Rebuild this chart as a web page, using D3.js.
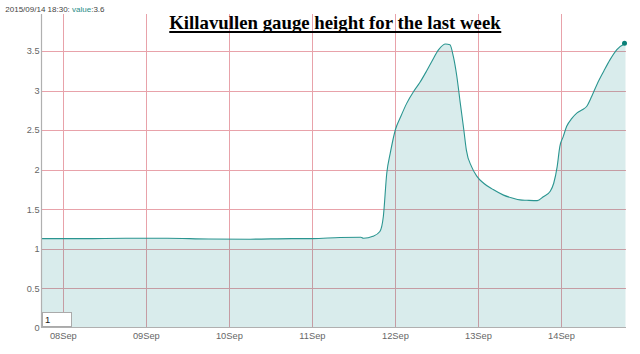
<!DOCTYPE html>
<html>
<head>
<meta charset="utf-8">
<script src="https://cdn.jsdelivr.net/npm/d3@7/dist/d3.min.js"></script>
<style>
html,body{margin:0;padding:0;background:#fff;}
svg{display:block;}
</style>
</head>
<body>
<svg id="chart" width="640" height="354"></svg>
<script>
// ---- data ----
const times = [
"2015-09-07T17:50","2015-09-08T06:00","2015-09-08T18:00","2015-09-09T06:00","2015-09-09T18:00",
"2015-09-10T06:00","2015-09-10T18:00","2015-09-11T00:00","2015-09-11T08:00","2015-09-11T14:00",
"2015-09-11T14:45","2015-09-11T17:30","2015-09-11T19:30","2015-09-11T20:30","2015-09-11T21:30",
"2015-09-11T22:30","2015-09-12T00:00","2015-09-12T01:30","2015-09-12T03:15","2015-09-12T05:15",
"2015-09-12T07:00","2015-09-12T09:00","2015-09-12T10:30","2015-09-12T12:30","2015-09-12T14:30",
"2015-09-12T15:45","2015-09-12T16:45","2015-09-12T17:45","2015-09-12T18:45","2015-09-12T19:45",
"2015-09-12T20:30","2015-09-12T22:00","2015-09-12T23:30","2015-09-13T01:30","2015-09-13T04:15",
"2015-09-13T07:15","2015-09-13T10:00","2015-09-13T12:00","2015-09-13T14:00","2015-09-13T17:00",
"2015-09-13T18:45","2015-09-13T20:45","2015-09-13T21:45","2015-09-13T22:45","2015-09-13T23:30",
"2015-09-14T00:30","2015-09-14T01:30","2015-09-14T03:00","2015-09-14T04:30","2015-09-14T06:00",
"2015-09-14T07:15","2015-09-14T08:45","2015-09-14T10:15","2015-09-14T12:15","2015-09-14T14:00",
"2015-09-14T16:00","2015-09-14T18:30"
];
const values = [
1.13,1.13,1.135,1.135,1.125,
1.123,1.13,1.13,1.145,1.148,
1.135,1.16,1.22,1.41,1.96,
2.21,2.51,2.67,2.84,2.99,
3.10,3.25,3.37,3.52,3.59,
3.58,3.43,3.18,2.84,2.51,
2.25,2.04,1.92,1.83,1.75,
1.68,1.64,1.62,1.615,1.61,
1.66,1.73,1.83,2.04,2.29,
2.42,2.55,2.65,2.72,2.76,
2.80,2.93,3.08,3.25,3.39,
3.52,3.60
];
const yTicks = [0,0.5,1,1.5,2,2.5,3,3.5];
const xTickDates = ["2015-09-08","2015-09-09","2015-09-10","2015-09-11","2015-09-12","2015-09-13","2015-09-14"];
const titleText = "Killavullen gauge height for the last week";
const legendDate = "2015/09/14 18:30: ";
const legendLabel = "value";
const legendValue = "3.6";
const rollPeriod = "1";

// ---- layout ----
(function(){
const parse = d3.timeParse("%Y-%m-%dT%H:%M");
const parseDay = d3.timeParse("%Y-%m-%d");
const data = times.map((t,i)=>({t:parse(t), v:values[i]}));
const pL=42, pR=625.5, pT=14, pB=328;

const x = d3.scaleTime()
  .domain([parse("2015-09-07T17:50"), parse("2015-09-14T18:30")])
  .range([pL,pR]);
const y = d3.scaleLinear().domain([0,3.97]).range([pB,pT]);

const svg = d3.select("#chart");
const font = "'Liberation Sans', Arial, sans-serif";
const gridColor = "#e8a2aa";

// grid
const g = svg.append("g");
g.selectAll(".hg").data(yTicks.filter(d=>d>0)).join("line")
  .attr("x1",pL).attr("x2",pR+0.5)
  .attr("y1",d=>Math.round(y(d))+0.5).attr("y2",d=>Math.round(y(d))+0.5)
  .attr("stroke",gridColor).attr("stroke-width",1);
const xt = xTickDates.map(parseDay);
g.selectAll(".vg").data(xt).join("line")
  .attr("x1",d=>Math.round(x(d))+0.5).attr("x2",d=>Math.round(x(d))+0.5)
  .attr("y1",pT).attr("y2",pB)
  .attr("stroke",gridColor).attr("stroke-width",1);

// area + line
const area = d3.area().x(d=>x(d.t)).y0(y(0)).y1(d=>y(d.v)).curve(d3.curveMonotoneX);
const line = d3.line().x(d=>x(d.t)).y(d=>y(d.v)).curve(d3.curveMonotoneX);
svg.append("path").datum(data).attr("d",area).attr("fill","rgba(0,128,128,0.15)");
svg.append("path").datum(data).attr("d",line).attr("fill","none")
  .attr("stroke","#2a9590").attr("stroke-width",1.1);

// axes lines
svg.append("line").attr("x1",pL-0.5).attr("x2",pL-0.5).attr("y1",pT).attr("y2",pB)
  .attr("stroke","#b0b0b0").attr("stroke-width",1.2);
svg.append("line").attr("x1",pL-1).attr("x2",pR+0.5).attr("y1",pB-0.5).attr("y2",pB-0.5)
  .attr("stroke","#b0b0b0").attr("stroke-width",1.2);

// y labels
svg.selectAll(".yl").data(yTicks).join("text")
  .attr("x",39.5).attr("y",d=>y(d)).attr("dy","0.35em")
  .attr("text-anchor","end").attr("font-family",font).attr("font-size",9.2)
  .attr("fill","#666").text(d=>d3.format("")(d));

// x labels
const fmt = d3.timeFormat("%d%b");
svg.selectAll(".xl").data(xt).join("text")
  .attr("x",d=>x(d)).attr("y",339.3)
  .attr("text-anchor","middle").attr("font-family",font).attr("font-size",9.3)
  .attr("fill","#666").text(d=>fmt(d));

// last point marker
const last = data[data.length-1];
svg.append("circle").attr("cx",x(last.t)-1).attr("cy",y(last.v)).attr("r",2.5).attr("fill","#0a8078");

// roller box
svg.append("rect").attr("x",42.5).attr("y",312.5).attr("width",29).attr("height",14)
  .attr("fill","#fff").attr("stroke","#aaa").attr("stroke-width",1);
svg.append("text").attr("x",45).attr("y",323).attr("font-family",font).attr("font-size",9.5)
  .attr("fill","#222").text(rollPeriod);

// legend
const lg = svg.append("text").attr("x",5.3).attr("y",12).attr("font-family",font).attr("font-size",8);
lg.append("tspan").attr("fill","#444").text(legendDate);
lg.append("tspan").attr("fill","#1f8c86").text(legendLabel);
lg.append("tspan").attr("fill","#444").text(":" + legendValue);

// title
const tt = svg.append("text").attr("x",335).attr("y",29.3).attr("text-anchor","middle")
  .attr("font-family","'Liberation Serif', 'Times New Roman', serif").attr("font-weight","bold")
  .attr("font-size",18.8).attr("fill","#000").text(titleText);
const bb = tt.node().getBBox();
svg.append("line").attr("x1",bb.x).attr("x2",bb.x+bb.width).attr("y1",32).attr("y2",32)
  .attr("stroke","#000").attr("stroke-width",1.8);
})();
</script>
</body>
</html>
